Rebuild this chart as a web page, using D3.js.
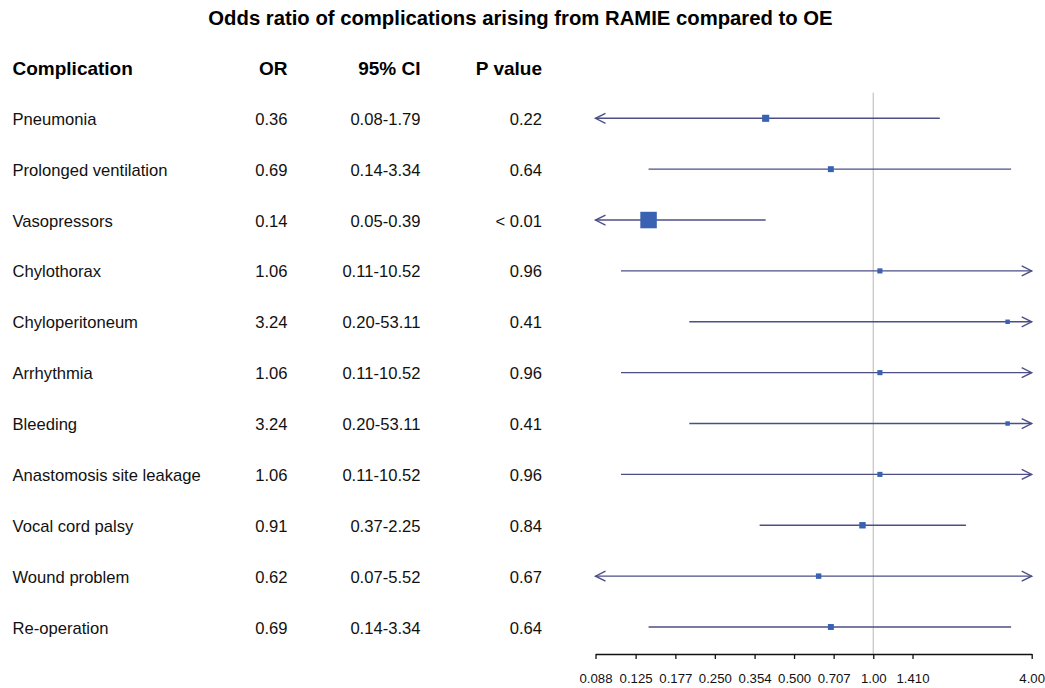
<!DOCTYPE html>
<html>
<head>
<meta charset="utf-8">
<script src="https://cdn.jsdelivr.net/npm/d3@7"></script>
<style>
  body { margin: 0; background: #fff; }
  svg { font-family: "Liberation Sans", Arial, sans-serif; }
</style>
</head>
<body>
<script>
// forest plot data
var complications = ["Pneumonia", "Prolonged ventilation", "Vasopressors", "Chylothorax",
    "Chyloperitoneum", "Arrhythmia", "Bleeding", "Anastomosis site leakage",
    "Vocal cord palsy", "Wound problem", "Re-operation"];
var orLabels = ["0.36", "0.69", "0.14", "1.06", "3.24", "1.06", "3.24", "1.06", "0.91", "0.62", "0.69"];
var ciLabels = ["0.08-1.79", "0.14-3.34", "0.05-0.39", "0.11-10.52", "0.20-53.11", "0.11-10.52",
    "0.20-53.11", "0.11-10.52", "0.37-2.25", "0.07-5.52", "0.14-3.34"];
var pLabels = ["0.22", "0.64", "< 0.01", "0.96", "0.41", "0.96", "0.41", "0.96", "0.84", "0.67", "0.64"];

// plotted estimates (pneumonia box sits at ~0.39 in the figure)
var pointEst = [0.39, 0.69, 0.14, 1.06, 3.24, 1.06, 3.24, 1.06, 0.91, 0.62, 0.69];
var ciLower = [0.08, 0.14, 0.05, 0.11, 0.20, 0.11, 0.20, 0.11, 0.37, 0.07, 0.14];
var ciUpper = [1.79, 3.34, 0.39, 10.52, 53.11, 10.52, 53.11, 10.52, 2.25, 5.52, 3.34];
// relative box weights
var boxWeight = [0.43, 0.36, 1.0, 0.31, 0.27, 0.31, 0.27, 0.31, 0.39, 0.33, 0.36];

var tickValues = [0.088, 0.125, 0.177, 0.250, 0.354, 0.500, 0.707, 1.00, 1.410, 4.00];
var tickLabels = ["0.088", "0.125", "0.177", "0.250", "0.354", "0.500", "0.707", "1.00", "1.410", "4.00"];

var width = 1045, height = 688;
var axisY = 654;

var svg = d3.select("body").append("svg")
    .attr("width", width)
    .attr("height", height);

var x = d3.scaleLog()
    .domain([tickValues[0], tickValues[tickValues.length - 1]])
    .range([595.5, 1031.7]);

var y = d3.scaleLinear()
    .domain([0, complications.length - 1])
    .range([118.3, 627]);

var box = d3.scaleLinear().domain([0, 1]).range([0, 16.5]);

var lineColor = "#4c4f86",
    boxColor = "#3a62b2";

// title
svg.append("text")
    .attr("x", 520.5)
    .attr("y", 25)
    .attr("text-anchor", "middle")
    .attr("font-weight", "bold")
    .attr("font-size", "20.3px")
    .text("Odds ratio of complications arising from RAMIE compared to OE");

// table columns
var cols = [
    {head: "Complication", x: 12.5, anchor: "start", vals: complications},
    {head: "OR", x: 287.5, anchor: "end", vals: orLabels},
    {head: "95% CI", x: 420.5, anchor: "end", vals: ciLabels},
    {head: "P value", x: 542, anchor: "end", vals: pLabels}
];

cols.forEach(function (c) {
    svg.append("text")
        .attr("x", c.x)
        .attr("y", y(-1) + 7.5)
        .attr("text-anchor", c.anchor)
        .attr("font-weight", "bold")
        .attr("font-size", "19px")
        .text(c.head);

    svg.selectAll(null)
        .data(c.vals)
        .enter().append("text")
        .attr("x", c.x)
        .attr("y", function (d, i) { return y(i) + 6.5; })
        .attr("text-anchor", c.anchor)
        .attr("font-size", "16.6px")
        .attr("fill", "#111")
        .text(function (d) { return d; });
});

// reference line at OR = 1
svg.append("line")
    .attr("x1", x(1)).attr("x2", x(1))
    .attr("y1", y(-0.5)).attr("y2", axisY)
    .attr("stroke", "#c8c8c8")
    .attr("stroke-width", 1.3);

// x axis
var axis = svg.append("g")
    .attr("transform", "translate(0," + axisY + ")")
    .call(d3.axisBottom(x)
        .tickValues(tickValues)
        .tickFormat(function (d, i) { return tickLabels[i]; })
        .tickSize(5)
        .tickSizeOuter(0));

axis.selectAll("path, line").attr("stroke", "#111").attr("stroke-width", 1.3);
axis.selectAll("text")
    .attr("font-family", "\"Liberation Sans\", Arial, sans-serif")
    .attr("font-size", "13.2px")
    .attr("fill", "#111")
    .attr("y", 28.5)
    .attr("dy", "0");

// confidence intervals
var xMin = x.domain()[0], xMax = x.domain()[1];

var rows = svg.selectAll(".row")
    .data(complications)
    .enter().append("g")
    .attr("class", "row")
    .attr("transform", function (d, i) { return "translate(0," + y(i) + ")"; });

rows.append("line")
    .attr("x1", function (d, i) { return x(Math.max(ciLower[i], xMin)); })
    .attr("x2", function (d, i) { return x(Math.min(ciUpper[i], xMax)); })
    .attr("y1", 0).attr("y2", 0)
    .attr("stroke", lineColor)
    .attr("stroke-width", 1.4);

// arrows where the interval runs off the axis
rows.filter(function (d, i) { return ciLower[i] < xMin; })
    .append("path")
    .attr("d", "M" + (x(xMin) + 10) + ",-5L" + x(xMin) + ",0L" + (x(xMin) + 10) + ",5")
    .attr("fill", "none")
    .attr("stroke", lineColor)
    .attr("stroke-width", 1.4);

rows.filter(function (d, i) { return ciUpper[i] > xMax; })
    .append("path")
    .attr("d", "M" + (x(xMax) - 10) + ",-5L" + x(xMax) + ",0L" + (x(xMax) - 10) + ",5")
    .attr("fill", "none")
    .attr("stroke", lineColor)
    .attr("stroke-width", 1.4);

// boxes
rows.append("rect")
    .attr("x", function (d, i) { return x(pointEst[i]) - box(boxWeight[i]) / 2; })
    .attr("y", function (d, i) { return -box(boxWeight[i]) / 2; })
    .attr("width", function (d, i) { return box(boxWeight[i]); })
    .attr("height", function (d, i) { return box(boxWeight[i]); })
    .attr("fill", boxColor);
</script>
</body>
</html>
